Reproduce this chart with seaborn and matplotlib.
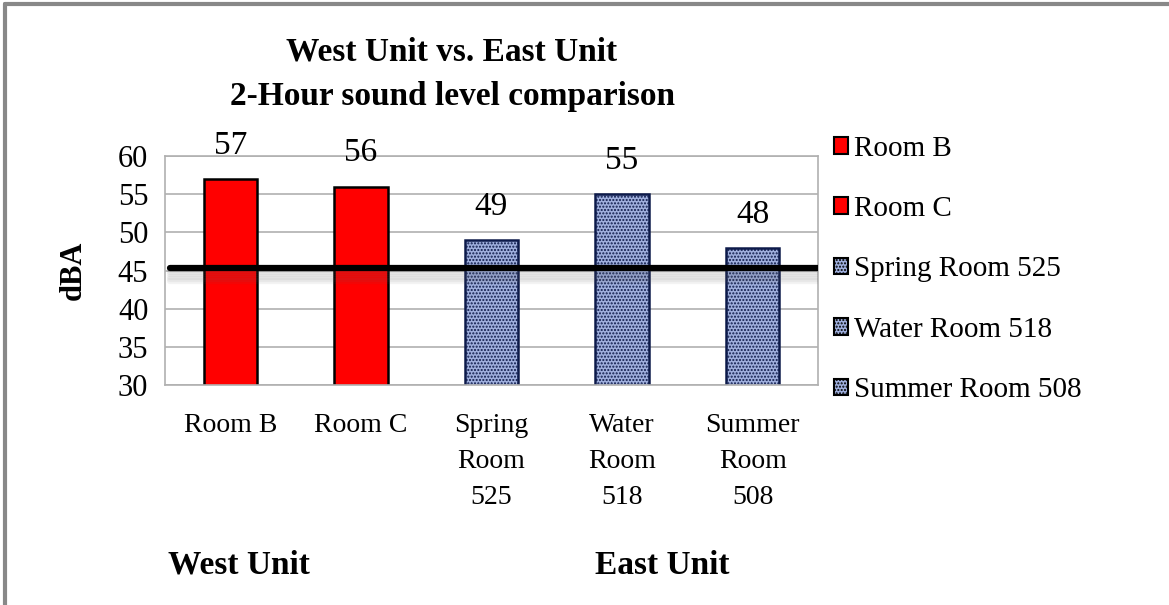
import numpy as np
import matplotlib
matplotlib.use("Agg")
import matplotlib.pyplot as plt
import matplotlib.patheffects as pe
from matplotlib.lines import Line2D
from matplotlib.patches import Patch
import seaborn as sns

# data
rooms = ["Room B", "Room C", "Spring Room 525", "Water Room 518", "Summer Room 508"]
tick_labels = ["Room B", "Room C", "Spring\nRoom\n525", "Water\nRoom\n518", "Summer\nRoom\n508"]
levels = [57, 56, 49, 55, 48]
units = ["West", "West", "East", "East", "East"]
threshold = 45.3

red = "#ff0000"
blue = "#9fafdd"
colors = [red if u == "West" else blue for u in units]

sns.set_style("white")
plt.rcParams["font.family"] = ["Liberation Serif", "DejaVu Serif"]
for k in ["text.color", "axes.labelcolor", "xtick.color", "ytick.color"]:
    plt.rcParams[k] = "black"

fig = plt.figure(figsize=(11.69, 6.05), dpi=100)
ax = fig.add_axes([165 / 1169, 1 - 385 / 605, (818 - 165) / 1169, (385 - 156) / 605])

sns.barplot(x=rooms, y=levels, hue=rooms, palette=colors, width=0.41, saturation=1,
            legend=False, ax=ax, zorder=2)

for patch, u in zip(ax.patches, units):
    patch.set_linewidth(1.8)
    if u == "West":
        patch.set_edgecolor("black")
    else:
        patch.set_edgecolor("#0d1a4a")
        patch.set_hatch(".....")

ax.set_ylim(30, 60)
ax.set_yticks(np.arange(30, 61, 5))
ax.yaxis.grid(True, color="#b0b0b0", linewidth=1.2, zorder=0)
ax.set_axisbelow(True)
for s in ax.spines.values():
    s.set_color("#b0b0b0")
    s.set_linewidth(1.2)
ax.tick_params(axis="y", labelsize=22, length=0, pad=12)
ax.tick_params(axis="x", labelsize=20, length=0, pad=20)
ax.set_xticks(range(len(rooms)))
ax.set_xticklabels(tick_labels, linespacing=1.58)
ax.set_xlabel("")
ax.set_ylabel("dBA", fontsize=22, fontweight="bold", labelpad=22)

# value labels
for i, v in enumerate(levels):
    ax.annotate(str(v), (i, v), xytext=(0, 13), textcoords="offset points",
                ha="center", va="bottom", fontsize=24)

# threshold line with soft shadow
shadows = [pe.SimpleLineShadow(offset=(0, -o), shadow_color="#606060", alpha=0.07)
           for o in (1.5, 3, 4.5, 6, 7.5, 9)]
ax.axhline(threshold, xmin=0.008, xmax=1.0, color="black", linewidth=4.5, zorder=5,
           path_effects=shadows + [pe.Normal()])

# legend
handles = [Patch(facecolor=c, edgecolor="black", linewidth=1.5,
                 hatch=None if u == "West" else ".....") for c, u in zip(colors, units)]
fig.legend(handles, rooms, loc="upper left", bbox_to_anchor=(822 / 1169, 1 - 124 / 605),
           frameon=False, fontsize=21, handlelength=0.5, handleheight=0.5,
           handletextpad=0.2, labelspacing=1.18, borderaxespad=0)

# titles and unit labels
fig.text(452 / 1169, 1 - 52 / 605, "West Unit vs. East Unit", ha="center", va="center",
         fontsize=24, fontweight="bold")
fig.text(452 / 1169, 1 - 97 / 605, "2-Hour sound level comparison", ha="center", va="center",
         fontsize=24, fontweight="bold")
fig.text(168 / 1169, 1 - 565 / 605, "West Unit", ha="left", va="center",
         fontsize=24, fontweight="bold")
fig.text(595 / 1169, 1 - 565 / 605, "East Unit", ha="left", va="center",
         fontsize=24, fontweight="bold")

# outer frame (top and left)
fig.add_artist(Line2D([5 / 1169, 1], [1 - 4 / 605, 1 - 4 / 605], color="#888888", linewidth=3,
                      transform=fig.transFigure))
fig.add_artist(Line2D([5 / 1169, 5 / 1169], [0, 1 - 4 / 605], color="#888888", linewidth=3,
                      transform=fig.transFigure))

fig.savefig("out.png", dpi=100)
